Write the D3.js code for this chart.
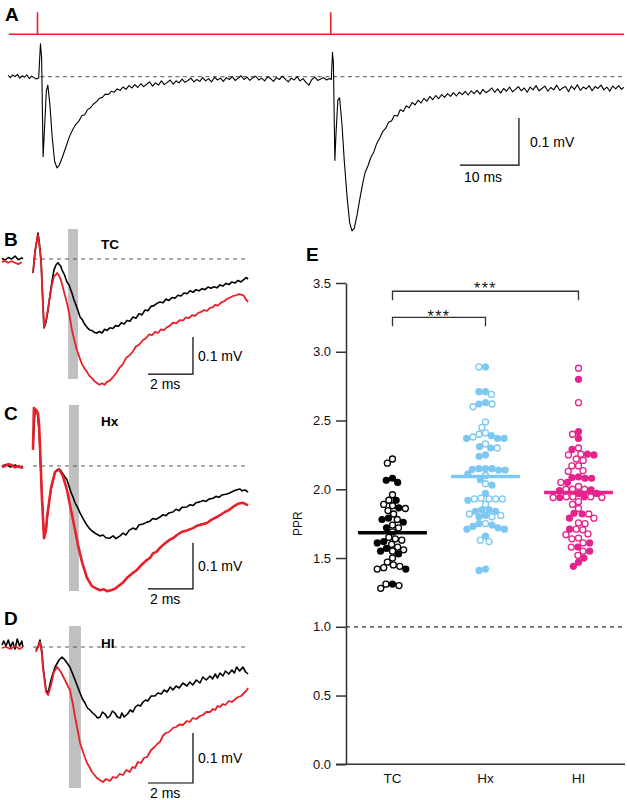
<!DOCTYPE html>
<html><head><meta charset="utf-8">
<script src="https://cdn.jsdelivr.net/npm/d3@7"></script>
<style>body{margin:0;background:#fff} text{font-family:"Liberation Sans",Arial,Helvetica,sans-serif}</style>
</head><body><svg id="c" width="627" height="800"></svg>
<script>
// ---------------- DATA ----------------
// Panel A: stimulus times (ms) and field potential trace [ms, µV]
const stimTimes = [5, 54.7];
const stimSpan = [0.13, 104.4];
const traceA = [
[0,3],[0.4,-2],[0.8,4],[1.2,0],[1.6,5],[2,-3],[2.4,2],[2.8,-1],[3.2,4],[3.6,-4],[4,1],[4.4,-2],[4.8,-5],[5.2,-3],
[5.5,70],[5.7,40],[5.95,-170],[6.15,-120],[6.5,-30],[6.75,-18],[7.1,-60],[7.5,-130],[7.9,-180],[8.3,-194],[8.7,-188],[9.2,-172],[9.8,-150],[10.4,-128],
[11,-112],[11.5,-101],[12,-95],[12.5,-83],[13,-81],[13.5,-70],[14,-66],[14.5,-58],[15,-53],[15.5,-46],[16,-44],[16.5,-37],[17,-38],[17.5,-31],[18,-33],[18.5,-26],[19,-29],[19.5,-22],[20,-27],[20.5,-19],[21,-24],[21.5,-17],[22,-23],[22.5,-15],[23,-21],[23.5,-16],[24,-11],[24.5,-20],[25,-13],[25.5,-18],[26,-9],[26.5,-17],[27,-12],[27.5,-7],[28,-16],[28.5,-9],[29,-13],[29.5,-5],[30,-12],[30.5,-8],[31,-3],[31.5,-11],[32,-6],[32.5,-10],[33,-2],[33.5,-9],[34,-4],[34.5,-11],[35,-1],[35.5,-7],[36,-3],[36.5,-10],[37,-2],[37.5,-6],[38,0],[38.5,-8],[39,-3],[39.5,2],[40,-6],[40.5,-1],[41,-8],[41.5,-2],[42,1],[42.5,-7],[43,-3],[43.5,-9],[44,0],[44.5,-4],[45,-10],[45.5,-2],[46,-6],[46.5,1],[47,-5],[47.5,-11],[48,-3],[48.5,-7],[49,0],[49.5,-9],[50,-4],[50.5,-12],[51,-18],[51.5,-6],[52,-1],[52.5,-8],[53,-5],[53.5,-2],[54,-7],[54.5,-4],[54.8,-6],
[55.0,52],[55.15,30],[55.4,-178],[55.6,-120],[55.9,-50],[56.2,-45],[56.6,-100],[57.0,-180],[57.5,-260],[57.9,-310],[58.3,-328],[58.7,-322],[59.2,-292],[59.7,-255],[60.2,-222],
[60.5,-205],[61,-190],[61.5,-172],[62,-160],[62.5,-142],[63,-131],[63.5,-117],[64,-110],[64.5,-97],[65,-94],[65.5,-82],[66,-84],[66.5,-70],[67,-74],[67.5,-62],[68,-66],[68.5,-55],[69,-60],[69.5,-50],[70,-56],[70.5,-46],[71,-52],[71.5,-42],[72,-49],[72.5,-40],[73,-47],[73.5,-38],[74,-44],[74.5,-36],[75,-42],[75.5,-34],[76,-41],[76.5,-33],[77,-38],[77.5,-31],[78,-39],[78.5,-30],[79,-36],[79.5,-29],[80,-37],[80.5,-27],[81,-34],[81.5,-30],[82,-24],[82.5,-33],[83,-26],[83.5,-35],[84,-25],[84.5,-31],[85,-22],[85.5,-32],[86,-27],[86.5,-21],[87,-30],[87.5,-24],[88,-33],[88.5,-22],[89,-28],[89.5,-19],[90,-30],[90.5,-25],[91,-20],[91.5,-31],[92,-23],[92.5,-28],[93,-18],[93.5,-29],[94,-24],[94.5,-21],[95,-32],[95.5,-20],[96,-27],[96.5,-17],[97,-29],[97.5,-22],[98,-26],[98.5,-19],[99,-30],[99.5,-21],[100,-25],[100.5,-18],[101,-28],[101.5,-22],[102,-31],[102.5,-20],[103,-26],[103.5,-19],[104,-27],[104.4,-22]
];

// Panels B–D: [ms, mV] traces (black = 1st response, red = 2nd response)
const preB_black = [[-1.38,0.002],[-1.25,-0.003],[-1.1,0.004],[-0.95,0.0],[-0.8,0.008],[-0.65,-0.002],[-0.5,0.003],[-0.45,0.0]];
const preB_red = [[-1.38,-0.008],[-1.25,-0.005],[-1.1,-0.01],[-0.95,-0.006],[-0.8,-0.01],[-0.65,-0.014],[-0.5,-0.008]];
const traceB_black = [[0,-0.038],[0.09,0.02],[0.22,0.07],[0.27,0.05],[0.36,-0.003],[0.44,-0.12],[0.49,-0.186],[0.58,-0.17],[0.67,-0.138],[0.76,-0.095],[0.84,-0.062],[0.93,-0.03],[1.02,-0.016],[1.11,-0.01],[1.16,-0.014],[1.24,-0.02],[1.29,-0.03],[1.38,-0.04],[1.51,-0.062],[1.6,-0.07],[1.73,-0.092],[1.82,-0.11],[1.91,-0.124],[2.0,-0.14],[2.09,-0.157],[2.2,-0.165],[2.31,-0.178],[2.42,-0.186],[2.53,-0.192],[2.64,-0.194],[2.75,-0.199],[2.84,-0.2],[2.95,-0.196],[3.07,-0.2],[3.18,-0.19],[3.29,-0.193],[3.42,-0.186],[3.55,-0.188],[3.67,-0.18],[3.8,-0.182],[3.93,-0.172],[4.05,-0.176],[4.18,-0.166],[4.31,-0.168],[4.44,-0.157],[4.58,-0.16],[4.71,-0.148],[4.84,-0.151],[4.98,-0.138],[5.11,-0.14],[5.24,-0.128],[5.38,-0.126],[5.51,-0.12],[5.64,-0.116],[5.78,-0.118],[5.91,-0.108],[6.04,-0.112],[6.18,-0.104],[6.31,-0.106],[6.44,-0.098],[6.58,-0.1],[6.71,-0.092],[6.84,-0.094],[6.98,-0.086],[7.11,-0.09],[7.24,-0.083],[7.38,-0.086],[7.51,-0.08],[7.64,-0.083],[7.78,-0.076],[7.91,-0.079],[8.04,-0.075],[8.18,-0.078],[8.31,-0.07],[8.44,-0.073],[8.58,-0.066],[8.71,-0.069],[8.84,-0.062],[8.98,-0.065],[9.11,-0.058],[9.24,-0.062],[9.38,-0.055],[9.47,-0.05],[9.56,-0.054]];
const traceB_red = [[0,-0.038],[0.09,0.02],[0.22,0.065],[0.27,0.045],[0.36,-0.008],[0.44,-0.12],[0.49,-0.186],[0.58,-0.165],[0.67,-0.132],[0.76,-0.1],[0.84,-0.07],[0.93,-0.048],[1.07,-0.038],[1.16,-0.045],[1.24,-0.057],[1.31,-0.072],[1.38,-0.089],[1.44,-0.103],[1.51,-0.119],[1.58,-0.139],[1.64,-0.159],[1.73,-0.192],[1.8,-0.21],[1.87,-0.227],[1.93,-0.242],[2.0,-0.254],[2.09,-0.27],[2.18,-0.284],[2.29,-0.296],[2.4,-0.305],[2.51,-0.316],[2.62,-0.322],[2.73,-0.33],[2.84,-0.335],[2.95,-0.34],[3.07,-0.336],[3.18,-0.34],[3.29,-0.332],[3.42,-0.328],[3.56,-0.319],[3.7,-0.308],[3.87,-0.292],[4.0,-0.284],[4.13,-0.268],[4.31,-0.259],[4.44,-0.25],[4.58,-0.236],[4.71,-0.232],[4.89,-0.219],[5.02,-0.214],[5.16,-0.204],[5.29,-0.206],[5.42,-0.197],[5.56,-0.2],[5.69,-0.19],[5.82,-0.192],[5.96,-0.184],[6.09,-0.18],[6.22,-0.172],[6.36,-0.174],[6.53,-0.165],[6.67,-0.166],[6.8,-0.158],[6.93,-0.16],[7.07,-0.152],[7.2,-0.154],[7.33,-0.146],[7.47,-0.143],[7.6,-0.138],[7.73,-0.14],[7.87,-0.132],[8.0,-0.13],[8.09,-0.124],[8.22,-0.126],[8.36,-0.118],[8.49,-0.114],[8.62,-0.108],[8.76,-0.104],[8.89,-0.1],[9.02,-0.098],[9.16,-0.095],[9.29,-0.097],[9.38,-0.1],[9.47,-0.11],[9.56,-0.116]];

const preC_black = [[-1.38,0.0],[-1.2,0.003],[-1.0,-0.002],[-0.8,0.002],[-0.6,-0.003],[-0.45,0.0]];
const preC_red = [[-1.38,-0.002],[-1.25,0.0],[-1.1,0.004],[-0.95,0.002],[-0.8,-0.003],[-0.65,0.0],[-0.5,-0.004],[-0.45,-0.002]];
const traceC_black = [[0,0.039],[0.09,0.122],[0.18,0.12],[0.27,0.078],[0.36,-0.03],[0.44,-0.1],[0.49,-0.157],[0.58,-0.14],[0.62,-0.117],[0.71,-0.08],[0.8,-0.052],[0.89,-0.03],[0.98,-0.013],[1.07,-0.008],[1.16,-0.007],[1.24,-0.01],[1.33,-0.017],[1.42,-0.024],[1.51,-0.03],[1.6,-0.044],[1.69,-0.057],[1.78,-0.068],[1.87,-0.08],[1.98,-0.09],[2.09,-0.102],[2.22,-0.114],[2.36,-0.126],[2.51,-0.136],[2.67,-0.143],[2.82,-0.148],[2.98,-0.152],[3.11,-0.15],[3.24,-0.156],[3.42,-0.157],[3.56,-0.152],[3.69,-0.158],[3.87,-0.152],[4.0,-0.146],[4.13,-0.15],[4.27,-0.14],[4.44,-0.135],[4.58,-0.138],[4.71,-0.128],[4.89,-0.126],[5.07,-0.122],[5.2,-0.12],[5.33,-0.114],[5.47,-0.116],[5.64,-0.111],[5.78,-0.106],[5.91,-0.108],[6.04,-0.102],[6.22,-0.1],[6.36,-0.094],[6.49,-0.097],[6.62,-0.09],[6.84,-0.089],[6.98,-0.084],[7.11,-0.086],[7.24,-0.08],[7.42,-0.078],[7.56,-0.075],[7.69,-0.077],[7.82,-0.072],[8.0,-0.07],[8.13,-0.066],[8.27,-0.068],[8.4,-0.063],[8.62,-0.061],[8.76,-0.058],[8.89,-0.055],[9.02,-0.052],[9.2,-0.05],[9.29,-0.054],[9.42,-0.052],[9.56,-0.057]];
const traceC_red = [[0,0.035],[0.04,0.126],[0.13,0.122],[0.22,0.115],[0.27,0.09],[0.31,0.046],[0.4,-0.074],[0.49,-0.157],[0.58,-0.138],[0.62,-0.113],[0.8,-0.048],[0.98,-0.013],[1.16,-0.007],[1.33,-0.022],[1.51,-0.052],[1.69,-0.096],[1.87,-0.139],[2.0,-0.172],[2.18,-0.209],[2.4,-0.243],[2.62,-0.261],[2.8,-0.266],[2.98,-0.27],[3.15,-0.268],[3.29,-0.272],[3.47,-0.27],[3.64,-0.267],[3.87,-0.258],[4.03,-0.252],[4.18,-0.243],[4.4,-0.234],[4.62,-0.226],[4.84,-0.214],[5.07,-0.204],[5.2,-0.2],[5.33,-0.19],[5.5,-0.186],[5.64,-0.178],[5.87,-0.168],[6.09,-0.16],[6.25,-0.156],[6.4,-0.15],[6.62,-0.143],[6.84,-0.14],[7.11,-0.135],[7.28,-0.13],[7.42,-0.128],[7.73,-0.124],[7.96,-0.116],[8.13,-0.112],[8.31,-0.107],[8.53,-0.1],[8.7,-0.096],[8.89,-0.089],[9.11,-0.082],[9.33,-0.08],[9.45,-0.083],[9.56,-0.085]];

const preD_black = [[-1.38,0.004],[-1.3,0.012],[-1.2,0.002],[-1.1,0.014],[-1.0,0.0],[-0.9,0.01],[-0.8,-0.004],[-0.7,0.016],[-0.6,0.002],[-0.5,0.012],[-0.45,0.0]];
const preD_red = [[-1.38,-0.002],[-1.2,0.0],[-1.0,-0.004],[-0.8,0.002],[-0.6,-0.004],[-0.45,0.0]];
const traceD_black = [[0.13,-0.006],[0.22,0.0],[0.31,0.014],[0.4,-0.01],[0.44,-0.036],[0.58,-0.086],[0.67,-0.092],[0.8,-0.066],[0.98,-0.04],[1.16,-0.026],[1.29,-0.02],[1.42,-0.026],[1.64,-0.04],[1.87,-0.066],[2.09,-0.092],[2.2,-0.104],[2.31,-0.112],[2.42,-0.122],[2.53,-0.126],[2.65,-0.132],[2.76,-0.136],[2.87,-0.142],[2.98,-0.14],[3.09,-0.13],[3.2,-0.134],[3.31,-0.142],[3.42,-0.138],[3.53,-0.128],[3.64,-0.132],[3.75,-0.14],[3.87,-0.142],[3.95,-0.132],[4.05,-0.14],[4.2,-0.134],[4.32,-0.126],[4.44,-0.13],[4.55,-0.12],[4.66,-0.116],[4.78,-0.118],[4.89,-0.11],[5.0,-0.106],[5.1,-0.108],[5.25,-0.098],[5.42,-0.098],[5.55,-0.092],[5.7,-0.094],[5.83,-0.086],[5.96,-0.09],[6.1,-0.08],[6.22,-0.086],[6.36,-0.078],[6.5,-0.082],[6.66,-0.072],[6.84,-0.078],[6.97,-0.07],[7.1,-0.076],[7.26,-0.066],[7.42,-0.072],[7.55,-0.06],[7.7,-0.066],[7.87,-0.058],[7.98,-0.064],[8.1,-0.054],[8.2,-0.062],[8.31,-0.052],[8.44,-0.058],[8.55,-0.048],[8.7,-0.054],[8.84,-0.046],[8.95,-0.052],[9.05,-0.04],[9.18,-0.048],[9.33,-0.04],[9.45,-0.05],[9.56,-0.054]];
const traceD_red = [[0.13,-0.01],[0.22,0.0],[0.31,0.01],[0.4,-0.015],[0.44,-0.042],[0.58,-0.09],[0.67,-0.096],[0.8,-0.076],[0.93,-0.05],[1.07,-0.04],[1.24,-0.05],[1.42,-0.066],[1.64,-0.086],[1.78,-0.116],[1.87,-0.14],[2.0,-0.17],[2.09,-0.192],[2.27,-0.216],[2.4,-0.232],[2.51,-0.24],[2.62,-0.25],[2.73,-0.256],[2.84,-0.262],[2.97,-0.266],[3.11,-0.27],[3.25,-0.264],[3.42,-0.268],[3.55,-0.26],[3.7,-0.262],[3.85,-0.254],[4.0,-0.256],[4.15,-0.246],[4.3,-0.25],[4.42,-0.24],[4.53,-0.242],[4.66,-0.23],[4.8,-0.232],[4.93,-0.222],[5.07,-0.22],[5.25,-0.206],[5.4,-0.2],[5.52,-0.194],[5.64,-0.19],[5.77,-0.178],[5.9,-0.172],[6.05,-0.17],[6.22,-0.162],[6.36,-0.16],[6.5,-0.155],[6.66,-0.156],[6.84,-0.148],[6.97,-0.15],[7.1,-0.142],[7.26,-0.144],[7.42,-0.138],[7.55,-0.136],[7.7,-0.13],[7.87,-0.13],[8.0,-0.124],[8.1,-0.126],[8.2,-0.118],[8.31,-0.12],[8.44,-0.114],[8.55,-0.116],[8.7,-0.108],[8.84,-0.11],[9.0,-0.104],[9.12,-0.1],[9.25,-0.098],[9.38,-0.092],[9.47,-0.088],[9.56,-0.082]];

// Panel E: paired-pulse ratios [PPR, filled(1)/open(0)]
const categories = ["TC", "Hx", "HI"];
const pprTC = [[2.22,0],[2.19,0],[2.08,1],[2.065,1],[2.05,1],[1.96,0],[1.92,0],[1.92,1],[1.89,0],[1.88,0],[1.865,1],[1.86,0],[1.845,0],[1.82,0],[1.79,1],[1.78,0],[1.78,1],[1.76,1],[1.74,0],[1.72,1],[1.72,0],[1.69,0],[1.65,0],[1.64,0],[1.63,0],[1.62,1],[1.61,1],[1.60,0],[1.58,0],[1.57,1],[1.56,0],[1.55,0],[1.55,1],[1.53,1],[1.50,0],[1.47,0],[1.45,0],[1.44,0],[1.43,0],[1.42,1],[1.42,0],[1.31,1],[1.31,0],[1.30,0],[1.28,0]];
const pprHx = [[2.89,1],[2.89,0],[2.71,1],[2.71,1],[2.69,0],[2.63,1],[2.62,1],[2.62,0],[2.60,0],[2.49,0],[2.45,0],[2.41,0],[2.40,0],[2.39,1],[2.37,1],[2.37,1],[2.37,1],[2.38,0],[2.33,0],[2.31,1],[2.30,1],[2.30,0],[2.25,1],[2.24,1],[2.15,1],[2.15,1],[2.145,1],[2.14,1],[2.15,1],[2.14,1],[2.11,1],[2.10,0],[2.07,1],[2.04,0],[2.03,1],[1.97,1],[1.935,0],[1.93,0],[1.93,0],[1.93,0],[1.93,0],[1.92,1],[1.89,0],[1.85,1],[1.85,1],[1.84,1],[1.84,1],[1.82,0],[1.81,1],[1.81,0],[1.80,1],[1.80,0],[1.75,0],[1.75,1],[1.74,1],[1.73,1],[1.72,1],[1.71,1],[1.71,1],[1.66,1],[1.63,0],[1.62,0],[1.42,1],[1.41,1]];
const pprHI = [[2.88,0],[2.80,1],[2.63,0],[2.42,1],[2.40,0],[2.37,1],[2.30,0],[2.29,1],[2.255,0],[2.255,1],[2.25,0],[2.25,1],[2.22,0],[2.21,0],[2.17,0],[2.17,0],[2.135,0],[2.13,0],[2.09,1],[2.085,1],[2.08,1],[2.08,1],[2.05,1],[2.05,0],[2.02,0],[2.00,0],[2.00,0],[1.995,1],[1.99,1],[2.00,0],[1.97,1],[1.97,1],[1.945,0],[1.945,1],[1.94,1],[1.945,0],[1.94,0],[1.945,0],[1.94,0],[1.91,0],[1.89,0],[1.86,0],[1.825,1],[1.82,1],[1.82,0],[1.79,1],[1.79,0],[1.755,0],[1.75,0],[1.71,0],[1.71,1],[1.705,0],[1.675,0],[1.67,0],[1.645,0],[1.64,0],[1.61,0],[1.61,1],[1.58,1],[1.58,0],[1.55,0],[1.55,1],[1.52,0],[1.50,1],[1.47,1],[1.44,1]];
const pprMeans = [1.683, 2.093, 1.977];
const yTicks = [0, 0.5, 1.0, 1.5, 2.0, 2.5, 3.0, 3.5];
const sigPairs = [["TC","HI","***"],["TC","Hx","***"]];

// ---------------- DRAWING ----------------
const svg = d3.select("#c");
svg.append("rect").attr("width",627).attr("height",800).attr("fill","#fff");
const FONT = '"Liberation Sans",Arial,Helvetica,sans-serif';
const RED = "#e8202a";

function panelLabel(t, x, y){
  svg.append("text").attr("x",x).attr("y",y).attr("font-size",19).attr("font-weight","bold").text(t);
}

// ---- Panel A ----
const xA = d3.scaleLinear().domain([0,100]).range([8,598]);
const yA = d3.scaleLinear().domain([0,-100]).range([76.7,123.7]);
const yStim = d3.scaleLinear().domain([0,1]).range([34.3,12.3]);
panelLabel("A", 5, 21);
const stimPts = [[stimSpan[0],0]];
stimTimes.forEach(s => { stimPts.push([s,0],[s,1],[s,0]); });
stimPts.push([stimSpan[1],0]);
svg.append("path").attr("d", d3.line().x(d=>xA(d[0])).y(d=>yStim(d[1]))(stimPts))
  .attr("fill","none").attr("stroke",RED).attr("stroke-width",1.6);
svg.append("line").attr("x1",xA(5.5)).attr("x2",xA(104.4)).attr("y1",yA(0)).attr("y2",yA(0))
  .attr("stroke","#555").attr("stroke-width",1).attr("stroke-dasharray","4,3.5");
svg.append("path").attr("d", d3.line().x(d=>xA(d[0])).y(d=>yA(d[1]))(traceA))
  .attr("fill","none").attr("stroke","#000").attr("stroke-width",1.1).attr("stroke-linejoin","round");
// scale bar A
{
  const t1 = 86.6, v0 = -188;
  svg.append("path").attr("d", d3.line()([[xA(t1-10),yA(v0)],[xA(t1),yA(v0)],[xA(t1),yA(v0+100)]]))
    .attr("fill","none").attr("stroke","#000").attr("stroke-width",1.2);
  svg.append("text").attr("x",xA(t1)+11).attr("y",(yA(v0)+yA(v0+100))/2+5).attr("font-size",14).text("0.1 mV");
  svg.append("text").attr("x",xA(t1-10)+4).attr("y",yA(v0)+17).attr("font-size",14).text("10 ms");
}

// ---- Panels B-D ----
const xP = d3.scaleLinear().domain([0,1]).range([33,55.5]);
const panels = [
  {lab:"B", labY:246, name:"TC", nameY:249, base:259, px01:37, bar:[1.56,2.0,229,379], sbV:-0.311,
   pre:[preB_black,preB_red], tr:[traceB_black,traceB_red], redW:1.8},
  {lab:"C", labY:420, name:"Hx", nameY:426, base:466, px01:46, bar:[1.6,2.04,405,591], sbV:-0.267,
   pre:[preC_black,preC_red], tr:[traceC_black,traceC_red], redW:2.6},
  {lab:"D", labY:625, name:"HI", nameY:648, base:647, px01:50, bar:[1.6,2.13,626,788], sbV:-0.272,
   pre:[preD_black,preD_red], tr:[traceD_black,traceD_red], redW:1.8}
];
panels.forEach(p => {
  const y = d3.scaleLinear().domain([0,-0.1]).range([p.base, p.base+p.px01]);
  const ln = d3.line().x(d=>xP(d[0])).y(d=>y(d[1]));
  panelLabel(p.lab, 4, p.labY);
  svg.append("rect").attr("x",xP(p.bar[0])).attr("width",xP(p.bar[1])-xP(p.bar[0]))
    .attr("y",p.bar[2]).attr("height",p.bar[3]-p.bar[2]).attr("fill","#c0c0c0");
  svg.append("line").attr("x1",xP(0)).attr("x2",xP(9.56)).attr("y1",y(0)).attr("y2",y(0))
    .attr("stroke","#555").attr("stroke-width",1).attr("stroke-dasharray","4,4");
  svg.append("text").attr("x",101).attr("y",p.nameY).attr("font-size",13.5).attr("font-weight","bold").text(p.name);
  [0,1].forEach(i => {
    const col = i===0 ? "#000" : RED, w = i===0 ? 1.6 : p.redW;
    svg.append("path").attr("d",ln(p.pre[i])).attr("fill","none").attr("stroke",col).attr("stroke-width",w).attr("stroke-linejoin","round");
    svg.append("path").attr("d",ln(p.tr[i])).attr("fill","none").attr("stroke",col).attr("stroke-width",w).attr("stroke-linejoin","round");
  });
  const t1 = 7.11;
  svg.append("path").attr("d", d3.line()([[xP(t1-2),y(p.sbV)],[xP(t1),y(p.sbV)],[xP(t1),y(p.sbV+0.1)]]))
    .attr("fill","none").attr("stroke","#000").attr("stroke-width",1.2);
  svg.append("text").attr("x",xP(t1)+5).attr("y",(y(p.sbV)+y(p.sbV+0.1))/2+5).attr("font-size",14).text("0.1 mV");
  svg.append("text").attr("x",xP(t1-2)+2).attr("y",y(p.sbV)+15).attr("font-size",14).text("2 ms");
});

// ---- Panel E ----
panelLabel("E", 306, 261);
const yE = d3.scaleLinear().domain([0,3.5]).range([764.3,283]);
const xE = d3.scalePoint().domain(categories).range([346,625]).padding(0.5);
const colors = {TC:"#000000", Hx:"#7cc8f3", HI:"#e6228c"};
const gY = svg.append("g").attr("transform","translate(346,0)")
  .call(d3.axisLeft(yE).tickValues(yTicks).tickFormat(d3.format(".1f")).tickSize(10).tickSizeOuter(0).tickPadding(5));
gY.select(".domain").attr("stroke","#333").attr("stroke-width",1.5);
gY.selectAll(".tick line").attr("stroke","#333").attr("stroke-width",1.5);
gY.selectAll(".tick text").attr("font-size",13).attr("font-family",FONT).attr("fill","#111");
svg.append("line").attr("x1",336).attr("x2",625).attr("y1",yE(0)).attr("y2",yE(0)).attr("stroke","#333").attr("stroke-width",1.5);
svg.append("line").attr("x1",346).attr("x2",625).attr("y1",yE(1)).attr("y2",yE(1))
  .attr("stroke","#333").attr("stroke-width",1.2).attr("stroke-dasharray","4,4");
categories.forEach(c => {
  svg.append("text").attr("x",xE(c)).attr("y",783).attr("text-anchor","middle").attr("font-size",13.5).attr("fill","#111").text(c);
});
svg.append("text").attr("transform",`translate(302,${(yE(0)+yE(3.5))/2}) rotate(-90)`)
  .attr("text-anchor","middle").attr("font-size",12).attr("fill","#111").text("PPR");

// significance brackets
[[sigPairs[0],3.44,3.375,293.5],[sigPairs[1],3.25,3.185,321.5]].forEach(([s,top,bot,ty]) => {
  const x1 = xE(s[0]), x2 = xE(s[1]);
  svg.append("path").attr("d", d3.line()([[x1,yE(bot)],[x1,yE(top)],[x2,yE(top)],[x2,yE(bot)]]))
    .attr("fill","none").attr("stroke","#333").attr("stroke-width",1.3);
  svg.append("text").attr("x",(x1+x2)/2).attr("y",ty).attr("text-anchor","middle").attr("font-size",16)
    .attr("letter-spacing",1.5).attr("fill","#111").text(s[2]);
});

// beeswarm
function swarm(vals, d){
  const pts = vals.map(([v,f]) => ({v, f, y: yE(v)})).sort((a,b)=>a.y-b.y);
  const placed = [];
  pts.forEach(p => {
    const near = placed.filter(q => Math.abs(q.y-p.y) < d);
    const cands = [0];
    near.forEach(q => { const w = Math.sqrt(d*d-(q.y-p.y)**2); cands.push(q.dx-w, q.dx+w); });
    cands.sort((a,b)=>Math.abs(a)-Math.abs(b));
    for (const c of cands) {
      if (near.every(q => (q.dx-c)**2 + (q.y-p.y)**2 >= d*d - 1e-6)) { p.dx = c; break; }
    }
    placed.push(p);
  });
  return placed;
}
const groups = {TC:pprTC, Hx:pprHx, HI:pprHI};
categories.forEach((c,i) => {
  const pts = swarm(groups[c], 6.6);
  svg.append("g").selectAll("circle").data(pts).join("circle")
    .attr("cx", d => xE(c)+d.dx).attr("cy", d => d.y).attr("r", d => d.f ? 3.6 : 3.0)
    .attr("fill", d => d.f ? colors[c] : "#fff")
    .attr("stroke", colors[c]).attr("stroke-width", d => d.f ? 0 : 1.3);
  const hw = xE.step()*0.37;
  svg.append("line").attr("x1",xE(c)-hw).attr("x2",xE(c)+hw).attr("y1",yE(pprMeans[i])).attr("y2",yE(pprMeans[i]))
    .attr("stroke",colors[c]).attr("stroke-width",3.5);
});
</script></body></html>
